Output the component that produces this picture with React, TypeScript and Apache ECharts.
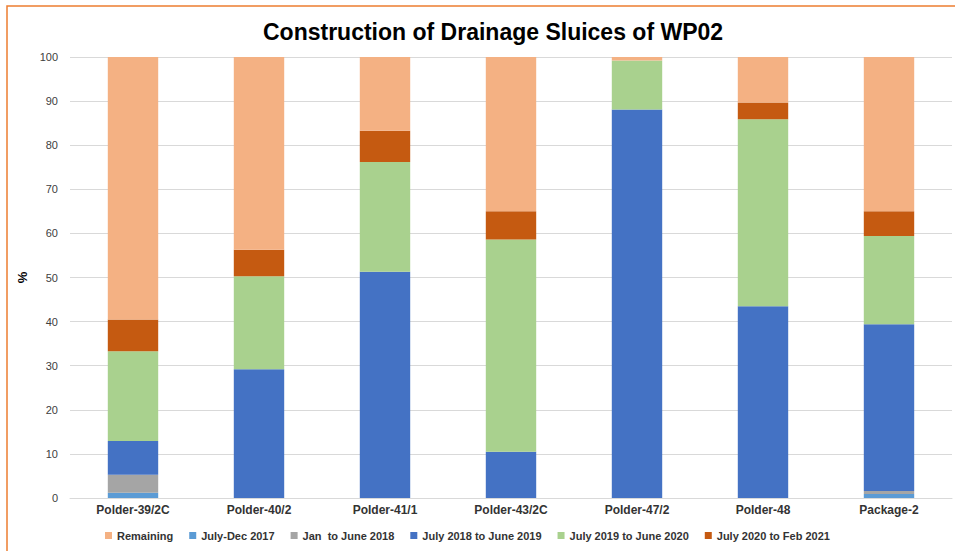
import React, { useEffect, useRef } from "react";
import * as echarts from "echarts";

const categories = ["Polder-39/2C", "Polder-40/2", "Polder-41/1", "Polder-43/2C", "Polder-47/2", "Polder-48", "Package-2"];
const julyDec2017 = [1.2, 0, 0, 0, 0, 0, 0.9];
const janJune2018 = [4.1, 0, 0, 0, 0, 0, 0.7];
const july2018June2019 = [7.6, 29.2, 51.3, 10.5, 88.1, 43.5, 37.8];
const july2019June2020 = [20.4, 21.1, 24.9, 48.1, 11.1, 42.4, 20.0];
const july2020Feb2021 = [7.2, 6.0, 7.1, 6.4, 0, 3.8, 5.6];
const remaining = [59.5, 43.7, 16.7, 35.0, 0.8, 10.3, 35.0];
const yTicks = { min: 0, max: 100, interval: 10 };

const seriesDefs = [
  { name: "July-Dec 2017", data: julyDec2017, color: "#5B9BD5" },
  { name: "Jan  to June 2018", data: janJune2018, color: "#A5A5A5" },
  { name: "July 2018 to June 2019", data: july2018June2019, color: "#4472C4" },
  { name: "July 2019 to June 2020", data: july2019June2020, color: "#A9D18E" },
  { name: "July 2020 to Feb 2021", data: july2020Feb2021, color: "#C55A11" },
  { name: "Remaining", data: remaining, color: "#F4B183" },
];
const legendOrder = ["Remaining", "July-Dec 2017", "Jan  to June 2018", "July 2018 to June 2019", "July 2019 to June 2020", "July 2020 to Feb 2021"];

export default function App() {
  const ref = useRef<HTMLDivElement>(null);
  useEffect(() => {
    document.body.style.margin = "0";
    const chart = echarts.init(ref.current!, undefined, { renderer: "svg" });
    chart.setOption({
      animation: false,
      backgroundColor: "#ffffff",
      textStyle: { fontFamily: "Liberation Sans" },
      graphic: [
        {
          type: "rect",
          shape: { x: 7, y: 6, width: 1000, height: 600 },
          style: { fill: "none", stroke: "#ED7D31", lineWidth: 1.5 },
          silent: true,
        },
      ],
      title: {
        text: "Construction of Drainage Sluices of WP02",
        left: 258,
        top: 15,
        textStyle: { fontSize: 23, fontWeight: "bold", color: "#000000", fontFamily: "Liberation Sans" },
      },
      legend: {
        data: legendOrder,
        bottom: 5,
        left: 100,
        itemWidth: 7,
        itemHeight: 7,
        itemGap: 16,
        icon: "rect",
        textStyle: { fontSize: 11, fontWeight: "bold", color: "#333333", fontFamily: "Liberation Sans" },
      },
      grid: { left: 70, right: 3, top: 57, bottom: 53 },
      xAxis: {
        type: "category",
        data: categories,
        axisTick: { show: false },
        axisLine: { lineStyle: { color: "#d9d9d9" } },
        axisLabel: { fontSize: 12, fontWeight: "bold", color: "#333333", margin: 6 },
      },
      yAxis: {
        type: "value",
        min: yTicks.min,
        max: yTicks.max,
        interval: yTicks.interval,
        name: "%",
        nameLocation: "middle",
        nameGap: 34,
        nameRotate: 90,
        nameTextStyle: { fontSize: 13, fontWeight: "bold", color: "#000000" },
        axisLine: { show: false },
        axisTick: { show: false },
        axisLabel: { fontSize: 11, color: "#404040", margin: 12 },
        splitLine: { lineStyle: { color: "#d9d9d9", width: 1 } },
      },
      series: seriesDefs.map((s) => ({
        name: s.name,
        type: "bar",
        stack: "total",
        barWidth: "40%",
        data: s.data,
        itemStyle: { color: s.color },
      })),
    });
    return () => chart.dispose();
  }, []);
  return <div ref={ref} style={{ width: 955, height: 551, position: "fixed", left: 0, top: 0 }} />;
}
